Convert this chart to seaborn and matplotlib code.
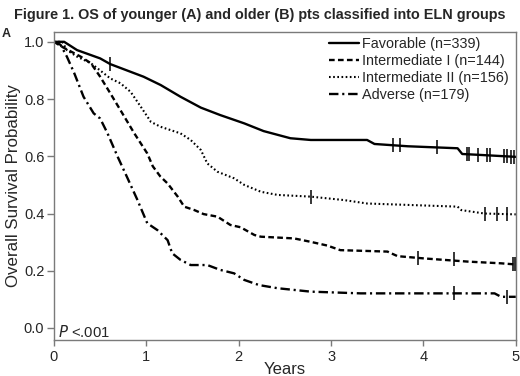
import numpy as np
import pandas as pd
import matplotlib
matplotlib.use("Agg")
import matplotlib.pyplot as plt
import seaborn as sns

# ---- data ----
fav_t = [0, 0.11, 0.25, 0.50, 0.61, 0.79, 0.97, 1.155, 1.37, 1.59, 1.80, 2.06, 2.27, 2.56, 2.78,
         3.39, 3.47, 3.83, 4.37, 4.42, 4.60, 5.0]
fav_s = [1.0, 1.0, 0.971, 0.942, 0.922, 0.90, 0.878, 0.849, 0.808, 0.770, 0.744, 0.715, 0.688, 0.663, 0.657,
         0.657, 0.643, 0.635, 0.628, 0.608, 0.605, 0.598]
fav_ct = [0.61, 3.67, 3.75, 4.15, 4.47, 4.49, 4.59, 4.69, 4.72, 4.87, 4.91, 4.95, 4.98]
fav_cs = [0.922, 0.639, 0.639, 0.633, 0.607, 0.607, 0.605, 0.604, 0.604, 0.602, 0.600, 0.599, 0.598]

int1_t = [0, 0.09, 0.29, 0.40, 0.50, 0.61, 0.72, 0.87, 1.01, 1.07, 1.15, 1.23, 1.34, 1.41, 1.52, 1.62,
          1.77, 1.91, 2.02, 2.17, 2.24, 2.60, 2.78, 2.96, 3.10, 3.61, 3.72, 4.01, 4.48, 4.84, 5.0]
int1_s = [1.0, 0.982, 0.948, 0.925, 0.878, 0.82, 0.761, 0.68, 0.61, 0.565, 0.530, 0.505, 0.459, 0.424, 0.412, 0.398,
          0.389, 0.36, 0.352, 0.325, 0.319, 0.313, 0.301, 0.288, 0.272, 0.267, 0.251, 0.243, 0.232, 0.226, 0.222]
int1_ct = [3.94, 4.33, 4.97, 4.995]
int1_cs = [0.246, 0.240, 0.222, 0.222]

int2_t = [0, 0.09, 0.14, 0.25, 0.40, 0.50, 0.61, 0.72, 0.83, 0.94, 1.05, 1.155, 1.37, 1.48, 1.59, 1.66,
          1.77, 1.95, 2.06, 2.24, 2.42, 2.78, 3.14, 3.39, 4.37, 4.41, 4.66, 5.0]
int2_s = [1.0, 1.0, 0.971, 0.948, 0.925, 0.90, 0.872, 0.855, 0.825, 0.773, 0.72, 0.703, 0.68, 0.657, 0.622, 0.575,
          0.546, 0.523, 0.50, 0.476, 0.465, 0.459, 0.447, 0.435, 0.424, 0.412, 0.40, 0.397]
int2_ct = [2.78, 4.67, 4.80, 4.91]
int2_cs = [0.459, 0.400, 0.399, 0.398]

adv_t = [0, 0.07, 0.14, 0.22, 0.32, 0.43, 0.50, 0.58, 0.69, 0.79, 0.90, 1.01, 1.12, 1.23, 1.28, 1.37,
         1.48, 1.66, 1.80, 1.95, 2.06, 2.22, 2.42, 2.60, 2.78, 3.32, 4.77, 4.84, 5.0]
adv_s = [1.0, 0.99, 0.948, 0.89, 0.808, 0.75, 0.732, 0.68, 0.598, 0.528, 0.45, 0.366, 0.342, 0.307, 0.261, 0.238,
         0.22, 0.22, 0.203, 0.191, 0.168, 0.15, 0.139, 0.133, 0.127, 0.121, 0.121, 0.109, 0.109]
adv_ct = [4.33, 4.90]
adv_cs = [0.121, 0.109]

labels = ["Favorable (n=339)", "Intermediate I (n=144)", "Intermediate II (n=156)", "Adverse (n=179)"]
x_ticks = [0, 1, 2, 3, 4, 5]
y_ticks = [0.0, 0.2, 0.4, 0.6, 0.8, 1.0]

# ---- style ----
sns.set_theme(style="white")
plt.rcParams['font.family'] = ['Liberation Sans', 'DejaVu Sans']

fig = plt.figure(figsize=(5.2, 3.76), dpi=100)
ax = fig.add_axes([0.1038, 0.0957, 0.889, 0.819])

series = [
    (fav_t, fav_s, fav_ct, fav_cs, None, 1.7),
    (int1_t, int1_s, int1_ct, int1_cs, (0, (2.4, 1.4)), 1.7),
    (int2_t, int2_s, int2_ct, int2_cs, (0, (0.8, 1.2)), 1.5),
    (adv_t, adv_s, adv_ct, adv_cs, (0, (4.0, 1.6, 0.9, 1.6)), 1.7),
]

for (t, s, ct, cs, ls, lw), lab in zip(series, labels):
    df = pd.DataFrame({"t": t, "s": s})
    kw = dict(color="black", linewidth=lw, label=lab)
    if ls is not None:
        kw["linestyle"] = ls
    sns.lineplot(data=df, x="t", y="s", ax=ax, estimator=None, sort=False, **kw)
    cdf = pd.DataFrame({"t": ct, "s": cs})
    sns.scatterplot(data=cdf, x="t", y="s", ax=ax, marker="|", s=90, color="black",
                    linewidth=1.1, legend=False, zorder=3)

ax.set_xlim(0, 5.005)
ax.set_ylim(-0.042, 1.034)
ax.set_xticks(x_ticks)
ax.set_xticklabels([str(v) for v in x_ticks])
ax.set_yticks(y_ticks)
ax.set_yticklabels([f"{v:.1f}" for v in y_ticks])
ax.tick_params(axis="both", direction="out", length=5, width=1, color="#7a7a7a",
               labelsize=10.5, pad=2, left=True, bottom=True)
ax.tick_params(axis="x", length=4.5, pad=3)
for sp in ax.spines.values():
    sp.set_color("#7a7a7a")
    sp.set_linewidth(1.0)

ax.set_xlabel("Years", fontsize=12, labelpad=-1.5)
ax.set_ylabel("Overall Survival Probability", fontsize=12.2, labelpad=2)

leg = ax.legend(loc="upper right", frameon=False, fontsize=10.4, handlelength=2.1,
                handletextpad=0.2, labelspacing=0.2, borderaxespad=0.0, borderpad=0.2,
                bbox_to_anchor=(0.99, 0.993))

ax.text(0.009, 0.0, "$P$ <.001", transform=ax.transAxes, fontsize=10.7,
        ha="left", va="bottom")

fig.text(0.5, 0.96, "Figure 1. OS of younger (A) and older (B) pts classified into ELN groups",
         ha="center", va="center", fontsize=10.35, fontweight="bold")
fig.text(0.004, 0.91, "A", ha="left", va="center", fontsize=9, fontweight="bold")

fig.savefig("out.png", dpi=100)
